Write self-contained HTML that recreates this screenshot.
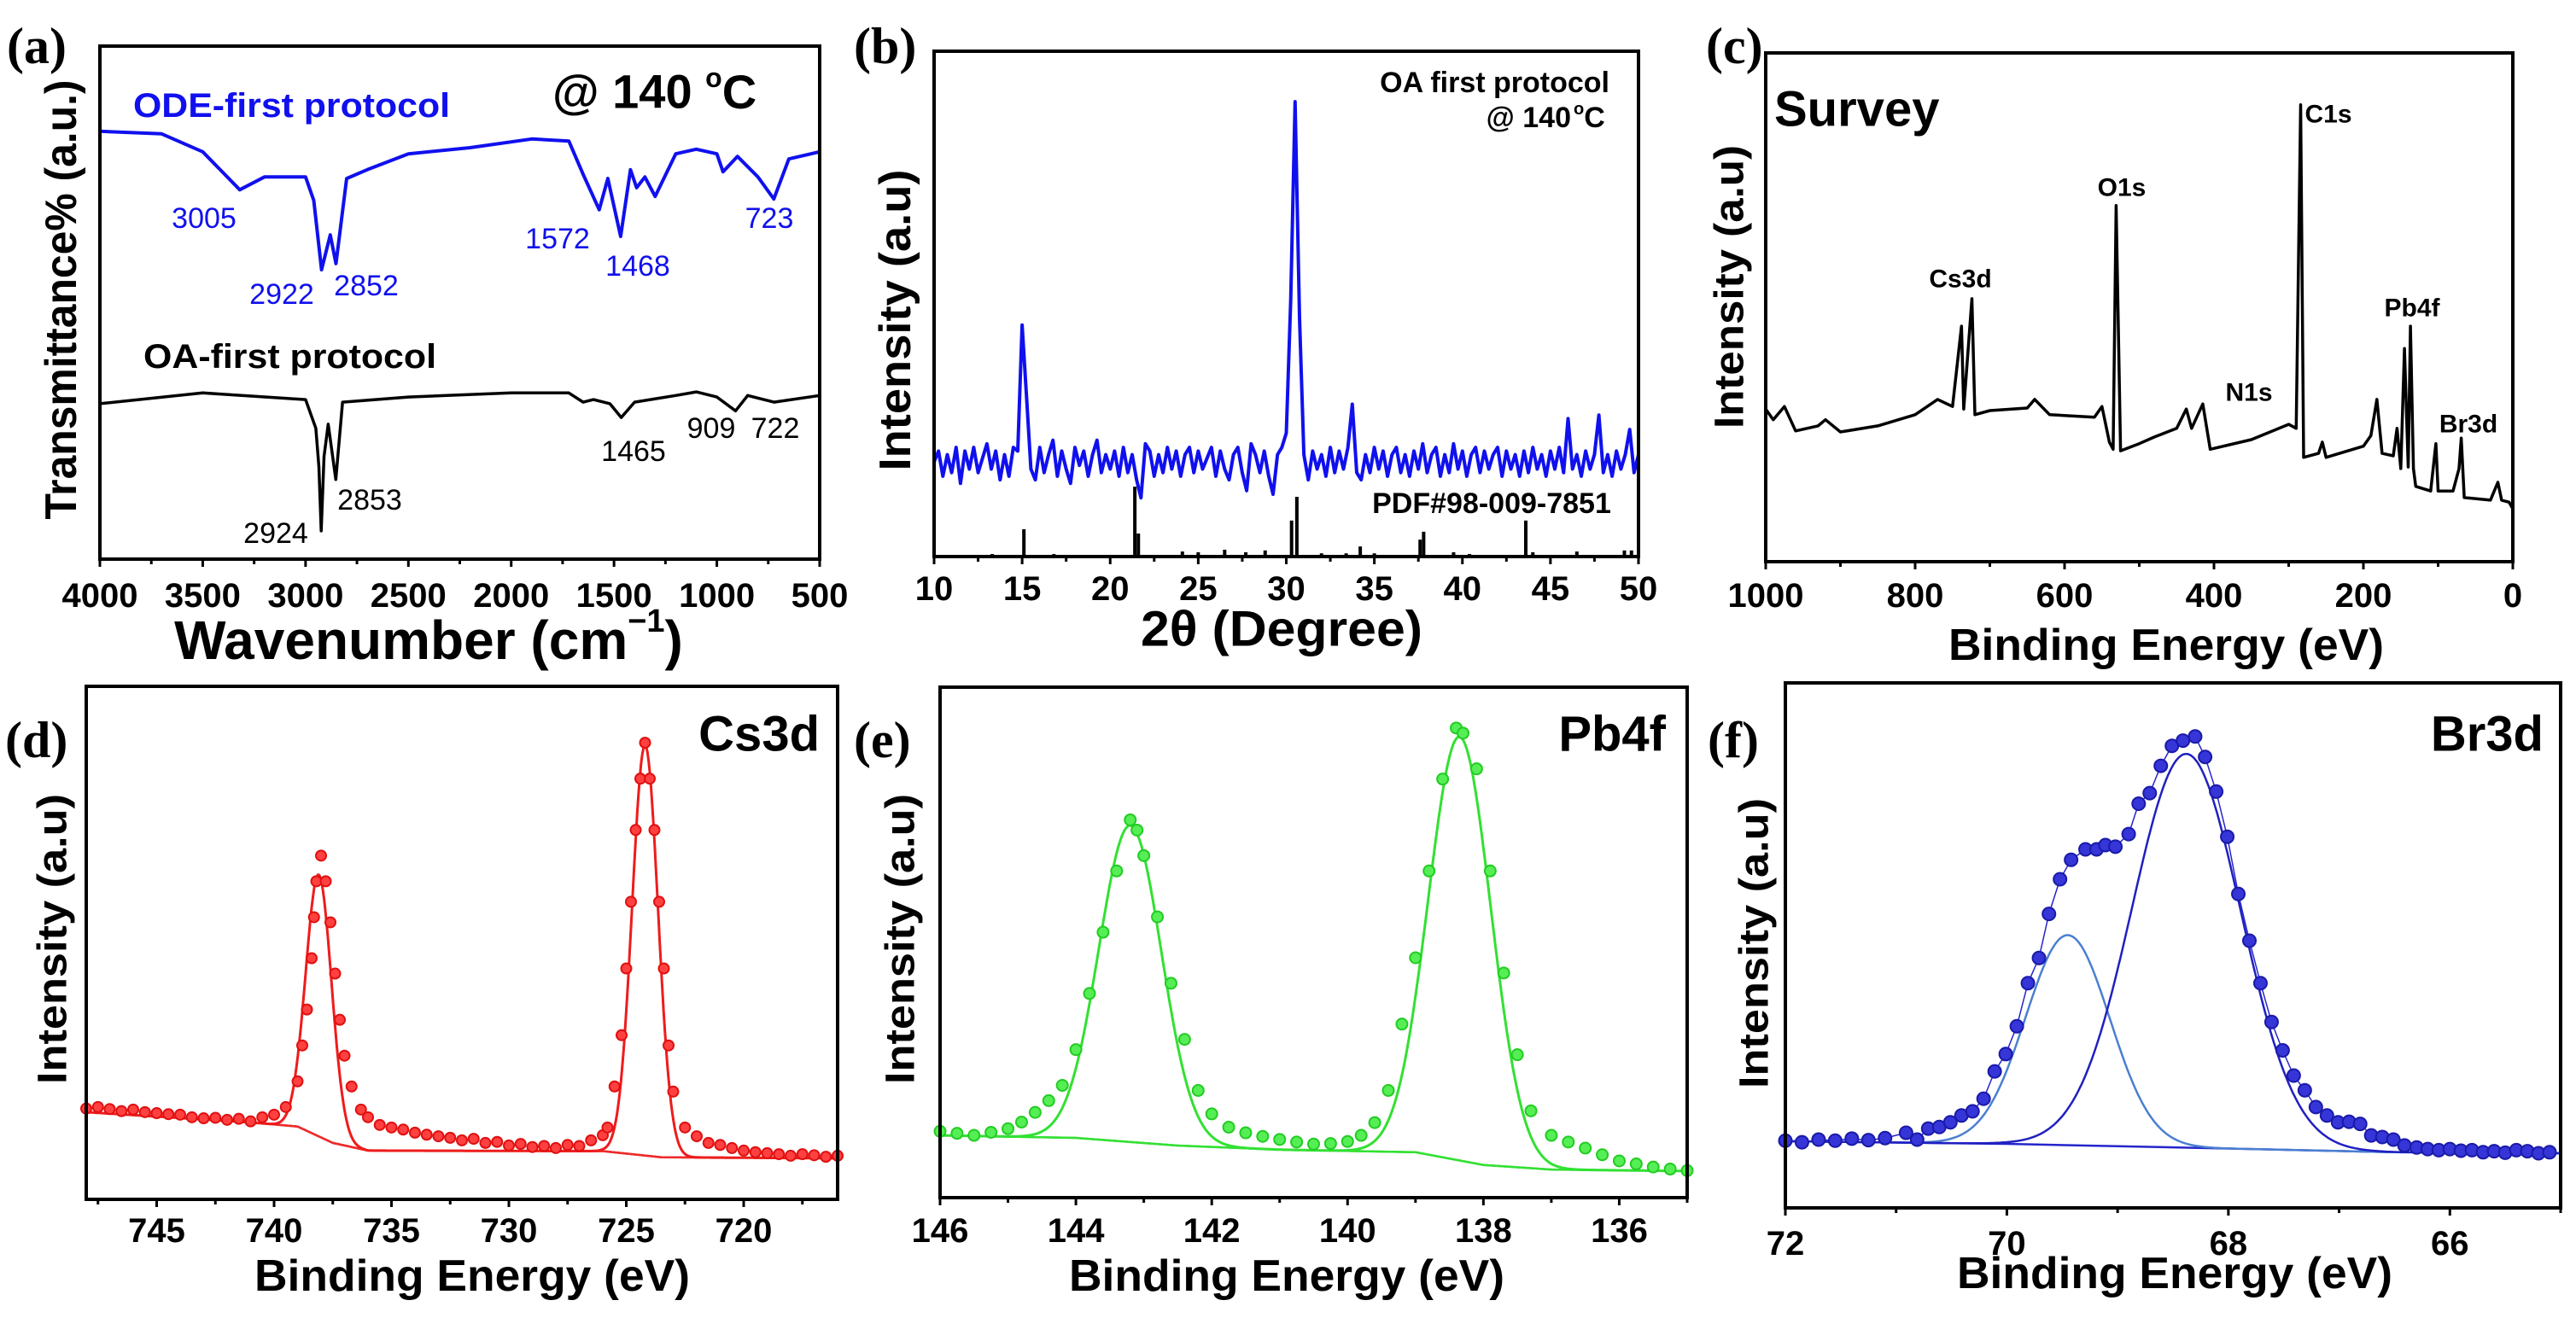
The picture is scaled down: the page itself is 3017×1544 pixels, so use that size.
<!DOCTYPE html>
<html><head><meta charset="utf-8"><style>
html,body{margin:0;padding:0;background:#fff;}
svg{display:block;font-family:"Liberation Sans",Arial,sans-serif;}
</style></head><body>
<svg id="fig" width="3017" height="1544" viewBox="0 0 3017 1544" xmlns="http://www.w3.org/2000/svg"></svg>
<script>
// ---------- (a) FTIR ----------
const ftirBlueX=[4000,3700,3500,3320,3200,3000,2960,2922,2880,2852,2800,2700,2500,2200,1900,1720,1650,1572,1530,1468,1420,1390,1350,1300,1200,1100,1000,970,900,800,723,650,500];
const ftirBlueT=[83.4,82.9,79.4,72.0,74.5,74.5,69.9,56.4,63.2,57.6,74.2,75.9,79.0,80.2,81.9,81.5,75.0,68.1,74.2,62.9,75.9,72.4,74.5,70.7,79.0,79.9,79.0,75.5,78.5,74.5,70.2,78.0,79.4];
const ftirBlackX=[4000,3500,3000,2950,2935,2924,2910,2890,2853,2820,2500,2000,1720,1650,1600,1520,1465,1400,1200,1100,1000,909,850,722,500];
const ftirBlackT=[30.3,32.4,31.1,25.5,18,5.5,20,26.3,15.5,30.6,31.6,32.4,32.4,30.6,31.1,30.3,27.6,30.6,31.9,32.6,31.6,28.9,31.9,30.6,31.9];
const ftirTicks=[4000,3500,3000,2500,2000,1500,1000,500];
// ---------- (b) XRD ----------
const xrdStart=10, xrdStep=0.25;
const xrdI=[0,3,-4,2,-3,4,-6,3,-2,4,-3,1,5,-2,3,-5,2,-4,4,3,38,18,-2,-5,4,-3,2,6,-4,3,-2,-6,4,-1,3,-4,2,6,-3,2,-2,3,-4,4,-3,2,-5,-10,5,3,-4,2,-3,4,-2,3,-4,2,4,-3,3,-2,1,4,-4,3,-2,-5,2,4,-3,-8,5,2,-3,3,-4,-9,2,4,8,45,100,40,2,-5,3,-2,2,-4,4,-3,3,-2,4,16,-3,-5,2,-3,4,-2,3,-4,2,4,-3,2,-4,3,-2,5,-3,2,4,-4,2,-3,5,-2,3,-4,2,4,-3,3,-2,2,4,-4,3,-2,2,-4,3,-3,4,-2,2,-4,3,-2,4,-3,12,-2,2,-4,3,-2,2,13,-3,2,-4,3,-2,2,9,-3,2];
const stickX=[13.3,15.1,16.8,21.4,21.6,24.1,25.0,26.5,27.7,28.8,30.3,30.6,32.0,33.4,34.2,35.0,37.6,37.8,39.5,40.4,43.6,44.0,46.5,49.2,49.6];
const stickH=[0.7,7.6,0.7,19.4,6.4,1.4,1.2,1.9,1.2,1.7,10,16.6,0.9,0.9,2.8,0.9,4.7,6.9,1.2,0.7,10,1.2,1.4,1.7,1.7];
const xrdTicks=[10,15,20,25,30,35,40,45,50];
// ---------- (c) Survey ----------
const survX=[1000,990,975,960,930,920,900,850,800,770,750,738,735,724,720,700,650,640,620,560,550,540,535,531,525,500,480,450,437,430,415,405,350,300,290,284,280,260,255,250,200,190,182,175,160,155,150,145,140,137,133,130,110,103,100,80,72,69,65,30,20,15,5,0];
const survI=[30.0,27.9,30.5,25.7,26.7,27.9,25.5,26.7,28.9,31.9,30.5,46.3,30.0,51.7,28.9,29.7,30.2,31.9,28.9,28.4,30.5,23.5,22.1,70.0,21.8,23.2,24.5,26.2,30.0,26.2,31.0,22.1,24.0,27.0,26.2,89.8,20.5,21.3,23.5,20.5,22.7,24.8,31.9,21.3,20.8,26.2,18.3,41.9,18.6,46.3,18.3,14.8,13.9,23.2,13.9,13.9,18.3,24.3,12.6,12.1,15.6,12.1,11.7,10.4];
const survTicks=[1000,800,600,400,200,0];
// ---------- (d) Cs3d ----------
const csX=[748,747.5,747,746.5,746,745.5,745,744.5,744,743.5,743,742.5,742,741.5,741,740.5,740,739.5,739,738.8,738.6,738.4,738.3,738.2,738.0,737.8,737.6,737.4,737.2,737.0,736.7,736.3,736,735.5,735,734.5,734,733.5,733,732.5,732,731.5,731,730.5,730,729.5,729,728.5,728,727.5,727,726.5,726,725.8,725.5,725.2,725.0,724.8,724.6,724.4,724.2,724.0,723.8,723.6,723.4,723.2,723.0,722.5,722,721.5,721,720.5,720,719.5,719,718.5,718,717.5,717,716.5,716];
const csI=[17.7,18,17.6,17.2,17.5,17,16.8,16.6,16.5,16,15.8,15.9,15.5,15.7,15.2,16,16.5,18,23,30,37,47,55,62,67,62,54,44,35,28,22,17.5,16,14.5,14,13.6,13,12.6,12.3,12,11.5,11.8,11,11.2,10.5,10.8,10.2,10.4,10,10.6,10.4,11.5,12.5,14,22,32,45,58,72,82,89,82,72,58,45,30,21,14,12.3,11,10.6,10,9.5,9.2,9,8.8,8.5,8.8,8.6,8.3,8.5];
const csBgX=[748,741,739,737.5,736,726,723.5,716];
const csBgI=[17,15,14.2,11,9.5,9.4,8.2,8];
const csPeakC=[738.1,724.2], csPeakH=[51,80], csPeakS=[0.55,0.55];
const csTicks=[745,740,735,730,725,720];
// ---------- (e) Pb4f ----------
const pbX=[146,145.75,145.5,145.25,145,144.8,144.6,144.4,144.2,144.0,143.8,143.6,143.4,143.2,143.1,143.0,142.8,142.6,142.4,142.2,142.0,141.75,141.5,141.25,141,140.75,140.5,140.25,140,139.8,139.6,139.4,139.2,139.0,138.8,138.6,138.4,138.3,138.1,137.9,137.7,137.5,137.3,137.0,136.75,136.5,136.25,136,135.75,135.5,135.25,135];
const pbI=[13,12.6,12.2,12.8,13.5,14.8,16.7,19,22,29,40,52,64,74,72,67,55,42,31,21,16.4,13.8,12.7,12,11.4,10.9,10.5,10.6,11,12.2,14.7,21,34,47,64,82,92,91,84,64,44,28,17,12.2,10.9,9.7,8.4,7.2,6.6,6,5.6,5.3];
const pbBgX=[146,144,142.5,141,139,138,137,135];
const pbBgI=[12.2,11.7,10.2,9.4,8.9,6.4,5.5,5.2];
const pbPeakC=[143.2,138.35], pbPeakH=[62,83], pbPeakS=[0.46,0.46];
const pbTicks=[146,144,142,140,138,136];
// ---------- (f) Br3d ----------
const brX=[72.0,71.85,71.7,71.55,71.4,71.25,71.1,70.91,70.81,70.71,70.61,70.51,70.41,70.31,70.21,70.11,70.01,69.91,69.81,69.71,69.62,69.52,69.42,69.29,69.19,69.11,69.02,68.90,68.81,68.71,68.61,68.51,68.41,68.30,68.21,68.11,68.01,67.91,67.81,67.71,67.61,67.51,67.41,67.31,67.21,67.11,67.01,66.91,66.81,66.71,66.61,66.51,66.41,66.3,66.2,66.1,66.0,65.9,65.8,65.7,65.6,65.5,65.4,65.3,65.2,65.1];
const brI=[12.8,12.5,13,12.8,13.2,12.9,13.3,14.3,13,15.1,15.4,16.3,17.6,18.4,20.8,26,29.3,34.6,42.8,47.6,56,62.6,66.3,68.3,68.3,69.1,68.8,71.2,77,79,84.2,88,89,89.8,85.9,79.3,70.7,59.8,50.9,42.8,35.4,30,25.2,22.4,19.2,17.6,16.3,16.4,16,13.8,13.5,13,11.9,11.5,11.2,11,11.2,10.9,11,10.6,10.8,10.5,11,10.8,10.4,10.6];
const brBgX=[72,70,68,66.5,65];
const brBgI=[12.7,12.2,11.3,10.6,10.4];
const brPeakC=[69.45,68.38], brPeakH=[40,75], brPeakS=[0.38,0.49];
const brTicks=[72,70,68,66];

const NS="http://www.w3.org/2000/svg";
const svg=document.getElementById('fig');
function mk(tag,attrs,parent){const e=document.createElementNS(NS,tag);for(const k in attrs)e.setAttribute(k,attrs[k]);(parent||svg).appendChild(e);return e;}
function lin(d0,d1,r0,r1){return v=>r0+(v-d0)*(r1-r0)/(d1-d0);}
function interp(xs,ys,x){for(let i=0;i<xs.length-1;i++){const a=xs[i],b=xs[i+1];if((x-a)*(x-b)<=0){return ys[i]+(ys[i+1]-ys[i])*(x-a)/(b-a);}}return ys[ys.length-1];}
function gauss(x,c,h,s){return h*Math.exp(-0.5*((x-c)/s)*((x-c)/s));}
function pathFrom(xs,ys,sx,sy){let d='';const n=Math.min(xs.length,ys.length);for(let i=0;i<n;i++){d+=(i?'L':'M')+sx(xs[i]).toFixed(1)+','+sy(ys[i]).toFixed(1);}return d;}
function txt(s,x,y,size,attrs,parent){const t=mk('text',Object.assign({x:x,y:y,'font-size':size,'dominant-baseline':'central'},attrs||{}),parent);t.textContent=s;return t;}

function frame(g,P){
  const r=mk('rect',{x:P.x0,y:P.y0,width:P.x1-P.x0,height:P.y1-P.y0,fill:'none',stroke:'#000','stroke-width':4},g);
  
  
}
function xTicks(g,P,sx,ticks,minorStep,labelY,fmt){
  const tg=mk('g',{},g);
  
  
  ticks.forEach(v=>{
    const x=sx(v);
    mk('line',{x1:x,x2:x,y1:P.y1,y2:P.y1+9,stroke:'#000','stroke-width':3},tg);
    const t=txt(fmt?fmt(v):String(v),x,labelY,40,{'text-anchor':'middle','font-weight':'bold'},tg);
    
    
  });
  for(let i=0;i<ticks.length-1;i++){
    const x=sx((ticks[i]+ticks[i+1])/2);
    mk('line',{x1:x,x2:x,y1:P.y1,y2:P.y1+6,stroke:'#000','stroke-width':3},tg);
  }
  if(minorStep){
    const lo=Math.min(P.dx0,P.dx1),hi=Math.max(P.dx0,P.dx1);
    const last=ticks[ticks.length-1],step=ticks[1]-ticks[0];
    const v=last+step/2; if(v>=lo&&v<=hi){const x=sx(v);mk('line',{x1:x,x2:x,y1:P.y1,y2:P.y1+6,stroke:'#000','stroke-width':3},tg);}
    const v0=ticks[0]-step/2; if(v0>=lo&&v0<=hi){const x=sx(v0);mk('line',{x1:x,x2:x,y1:P.y1,y2:P.y1+6,stroke:'#000','stroke-width':3},tg);}
  }
}
function yTitle(g,s,cx,cy,len,size){
  const t=txt(s,cx,cy,size,{'text-anchor':'middle','font-weight':'bold',transform:'rotate(-90 '+cx+' '+cy+')',textLength:len,lengthAdjust:'spacingAndGlyphs'},g);
  
  
  return t;
}
function xTitle(g,s,cx,cy,len,size){
  const t=txt(s,cx,cy,size,{'text-anchor':'middle','font-weight':'bold',textLength:len,lengthAdjust:'spacingAndGlyphs'},g);
  
  
  return t;
}
function panelLabel(g,s,x,y){
  const t=txt(s,x,y,60,{'font-family':'"Liberation Serif",serif','font-weight':'bold'},g);
  
  
}

// ===== Panel A =====
(function(){
  const P={x0:117,x1:960,y0:54,y1:655,dx0:4000,dx1:500};
  const sx=lin(4000,500,P.x0,P.x1), sy=lin(0,100,P.y1,P.y0);
  const g=mk('g',{});
  
  
  panelLabel(g,'(a)',8,54);
  const pb=mk('path',{d:pathFrom(ftirBlueX,ftirBlueT,sx,sy),fill:'none',stroke:'#1010ee','stroke-width':4,'stroke-linejoin':'round'},g);
  
  
  const pk=mk('path',{d:pathFrom(ftirBlackX,ftirBlackT,sx,sy),fill:'none',stroke:'#000','stroke-width':3.5,'stroke-linejoin':'round'},g);
  
  
  frame(g,P);
  xTicks(g,P,sx,ftirTicks,250,698);
  yTitle(g,'Transmittance% (a.u.)',72,351,515,52);
  const xt=txt('',502,750,64,{'text-anchor':'middle','font-weight':'bold'},g);
  
  
  xt.textContent='Wavenumber (cm';
  const sup=mk('tspan',{'font-size':38,dy:-22},xt); sup.textContent='−1';
  const cl=mk('tspan',{dy:22},xt); cl.textContent=')';
  const t1=txt('@ 140 ',647,107,56,{'font-weight':'bold'},g);
  
  
  const s1=mk('tspan',{'font-size':32,dy:-16},t1); s1.textContent='o';
  const s2=mk('tspan',{dy:16},t1); s2.textContent='C';
  const l1=txt('ODE-first protocol',156,124,40,{'font-weight':'bold',fill:'#1010ee',textLength:371,lengthAdjust:'spacingAndGlyphs'},g);
  
  
  const l2=txt('OA-first protocol',168,418,40,{'font-weight':'bold',fill:'#000',textLength:343,lengthAdjust:'spacingAndGlyphs'},g);
  
  
  const blueLabels=[['3005',239,256],['2922',330,345],['2852',429,335],['1572',653,280],['1468',747,312],['723',901,256]];
  blueLabels.forEach(b=>{const t=txt(b[0],b[1],b[2],34,{'text-anchor':'middle',fill:'#1010ee'},g);
    
    });
  const blackLabels=[['2924',323,625],['2853',433,586],['1465',742,529],['909',833,502],['722',908,502]];
  blackLabels.forEach(b=>{const t=txt(b[0],b[1],b[2],34,{'text-anchor':'middle',fill:'#000'},g);
    
    });
})();

// ===== Panel B =====
(function(){
  const P={x0:1094,x1:1919,y0:60,y1:652,dx0:10,dx1:50};
  const sx=lin(10,50,P.x0,P.x1), sy=lin(-26.3,114,P.y1,P.y0);
  const g=mk('g',{});
  
  
  panelLabel(g,'(b)',1000,54);
  const xs=xrdI.map((v,i)=>xrdStart+i*xrdStep);
  const p=mk('path',{d:pathFrom(xs,xrdI,sx,sy),fill:'none',stroke:'#1010ee','stroke-width':4,'stroke-linejoin':'round'},g);
  
  
  const sg=mk('g',{},g);
  
  
  stickX.forEach((x,i)=>{const l=mk('line',{x1:sx(x),x2:sx(x),y1:sy(-26.3),y2:sy(-26.3+stickH[i]),stroke:'#000','stroke-width':4},sg);
    
    });
  frame(g,P);
  xTicks(g,P,sx,xrdTicks,2.5,690);
  yTitle(g,'Intensity (a.u)',1049,375,353,52);
  xTitle(g,'2θ (Degree)',1501,737,330,58);
  const a=txt('OA first protocol',1885,97,34,{'text-anchor':'end','font-weight':'bold'},g);
  
  
  const b=txt('@ 140 ',1840,138,34,{'text-anchor':'end','font-weight':'bold'},g);
  
  
  const c=txt('',1843,138,34,{'font-weight':'bold'},g);
  const c1=mk('tspan',{'font-size':20,dy:-10},c); c1.textContent='o';
  const c2=mk('tspan',{dy:10},c); c2.textContent='C';
  const r=txt('PDF#98-009-7851',1747,590,34,{'text-anchor':'middle','font-weight':'bold'},g);
  
  
})();

// ===== Panel C =====
(function(){
  const P={x0:2068,x1:2943,y0:62,y1:658,dx0:1000,dx1:0};
  const sx=lin(1000,0,P.x0,P.x1), sy=lin(0,100,P.y1,P.y0);
  const g=mk('g',{});
  
  
  panelLabel(g,'(c)',1998,54);
  const p=mk('path',{d:pathFrom(survX,survI,sx,sy),fill:'none',stroke:'#000','stroke-width':3.5,'stroke-linejoin':'round'},g);
  
  
  frame(g,P);
  xTicks(g,P,sx,survTicks,100,698);
  yTitle(g,'Intensity (a.u)',2026,336,332,48);
  xTitle(g,'Binding Energy (eV)',2537,756,510,52);
  const s=txt('Survey',2078,128,58,{'font-weight':'bold'},g);
  
  
  const labs=[['C1s',2727,134],['O1s',2485,220],['Cs3d',2296,327],['N1s',2634,460],['Pb4f',2825,361],['Br3d',2891,497]];
  labs.forEach(l=>{const t=txt(l[0],l[1],l[2],30,{'text-anchor':'middle','font-weight':'bold'},g);
    
    });
})();

// ===== XPS detail panels =====
function xps(cfg){
  const P=cfg.P;
  const sx=lin(P.dx0,P.dx1,P.x0,P.x1), sy=lin(0,100,P.y1,P.y0);
  const g=mk('g',{});
  
  
  panelLabel(g,cfg.label,cfg.lx,867);
  const bg=mk('path',{d:pathFrom(cfg.bgX,cfg.bgI,sx,sy),fill:'none',stroke:cfg.lineColor,'stroke-width':2.5},g);
  
  
  const lo=Math.min(P.dx0,P.dx1),hi=Math.max(P.dx0,P.dx1);
  const fx=[];for(let x=hi;x>=lo;x-=(hi-lo)/600)fx.push(x);
  cfg.pc.forEach((c,k)=>{
    const ys=fx.map(x=>interp(cfg.bgX,cfg.bgI,x)+gauss(x,c,cfg.ph[k],cfg.ps[k]));
    const cp=mk('path',{d:pathFrom(fx,ys,sx,sy),fill:'none',stroke:cfg.compColors[k],'stroke-width':2.5},g);
    
    
  });
  if(cfg.envelope){
    const ys=fx.map(x=>{let v=interp(cfg.bgX,cfg.bgI,x);cfg.pc.forEach((c,k)=>v+=gauss(x,c,cfg.ph[k],cfg.ps[k]));return v;});
    const ep=mk('path',{d:pathFrom(fx,ys,sx,sy),fill:'none',stroke:cfg.lineColor,'stroke-width':3},g);
    
    
  }
  if(cfg.dataLineW>0){
    const dl=mk('path',{d:pathFrom(cfg.x,cfg.y,sx,sy),fill:'none',stroke:cfg.lineColor,'stroke-width':cfg.dataLineW},g);
    
    
  }
  const n=Math.min(cfg.x.length,cfg.y.length);
  for(let i=0;i<n;i++){
    const c=mk('circle',{cx:sx(cfg.x[i]),cy:sy(cfg.y[i]),r:cfg.r,fill:cfg.dotFill,stroke:cfg.dotStroke,'stroke-width':2},g);
    
    
  }
  frame(g,P);
  xTicks(g,P,sx,cfg.ticks,1,cfg.tickY);
  yTitle(g,'Intensity (a.u)',cfg.ytx,cfg.yty,340,48);
  xTitle(g,'Binding Energy (eV)',cfg.xtx,cfg.xty,510,52);
  const t=txt(cfg.title,cfg.tx,860,58,{'text-anchor':'end','font-weight':'bold'},g);
  
  
}
xps({name:'panel-d-cs3d',label:'(d)',lx:6,P:{x0:101,x1:981,y0:804,y1:1405,dx0:748,dx1:716},
  x:csX,y:csI,bgX:csBgX,bgI:csBgI,pc:csPeakC,ph:csPeakH,ps:csPeakS,envelope:true,
  lineColor:'#ee1c1c',compColors:['#ee2a2a','#ee2a2a'],dotFill:'#ff4040',dotStroke:'#e01010',r:6,dataLineW:0,
  ticks:csTicks,tickY:1442,ytx:62,yty:1100,xtx:553,xty:1495,title:'Cs3d',tx:960});
xps({name:'panel-e-pb4f',label:'(e)',lx:1000,P:{x0:1101,x1:1976,y0:805,y1:1403,dx0:146,dx1:135},
  x:pbX,y:pbI,bgX:pbBgX,bgI:pbBgI,pc:pbPeakC,ph:pbPeakH,ps:pbPeakS,envelope:true,
  lineColor:'#33e033',compColors:['#33e033','#33e033'],dotFill:'#55ee55',dotStroke:'#22cc22',r:6.5,dataLineW:0,
  ticks:pbTicks,tickY:1442,ytx:1055,yty:1100,xtx:1507,xty:1495,title:'Pb4f',tx:1951});
xps({name:'panel-f-br3d',label:'(f)',lx:2000,P:{x0:2091,x1:2999,y0:800,y1:1415,dx0:72,dx1:65},
  x:brX,y:brI,bgX:brBgX,bgI:brBgI,pc:brPeakC,ph:brPeakH,ps:brPeakS,envelope:false,
  lineColor:'#2525cc',compColors:['#4a7fd0','#2020c0'],dotFill:'#3535d8',dotStroke:'#1a1aa8',r:7.5,dataLineW:1.5,
  ticks:brTicks,tickY:1457,ytx:2055,yty:1105,xtx:2547,xty:1492,title:'Br3d',tx:2979});
</script>
</body></html>
